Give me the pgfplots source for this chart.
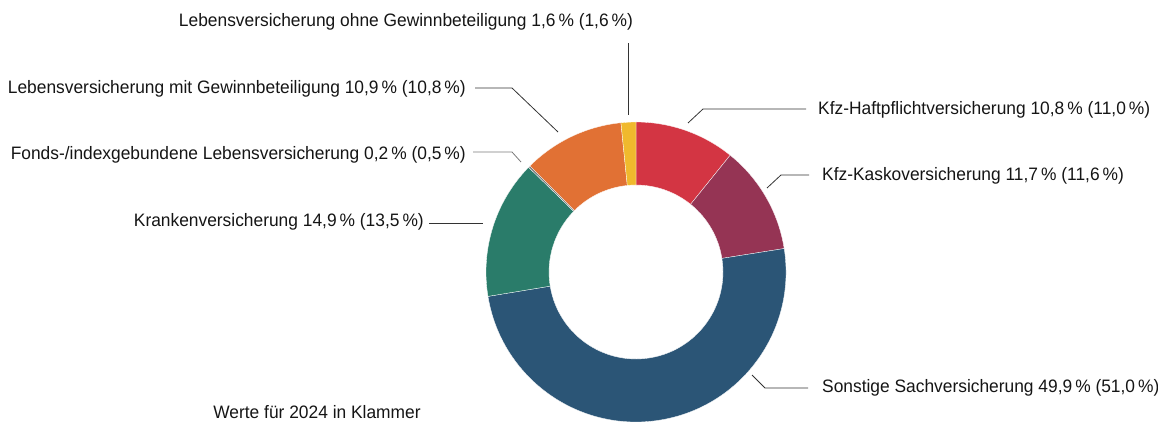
\documentclass[border=0pt]{standalone}
\usepackage{pgfplots}
\pgfplotsset{compat=1.18}
\usepackage{fontspec}
\setmainfont[FakeStretch=0.965]{Liberation Sans}
\newcommand\lf{\fontsize{18bp}{20bp}\selectfont}
\definecolor{cRed}{HTML}{D33543}
\definecolor{cMag}{HTML}{953454}
\definecolor{cBlue}{HTML}{2B5576}
\definecolor{cGreen}{HTML}{2A7C6A}
\definecolor{cGrey}{HTML}{7A7A7A}
\definecolor{cOrange}{HTML}{E17134}
\definecolor{cYellow}{HTML}{F0B92D}
\definecolor{cText}{HTML}{151515}
\definecolor{cLine}{HTML}{333333}
\tikzset{lbl/.style={font=\lf, text=cText, inner sep=0pt}}
\begin{document}
\begin{tikzpicture}[font=\lf]
\begin{axis}[
  width=1158bp, height=421bp, scale only axis,
  xmin=0, xmax=1158, ymin=0, ymax=421,
  hide axis, clip=false,
]
\coordinate (c) at (axis cs:636,149);
% leader lines (pixel y -> 421-y)
\draw[cLine, line width=0.8bp] (axis cs:628,306) -- (axis cs:628,378);
\draw[cLine, line width=0.8bp] (axis cs:688,298) -- (axis cs:703,312) -- (axis cs:806,312);
\draw[cLine, line width=0.8bp] (axis cs:767,233) -- (axis cs:781,246) -- (axis cs:809,246);
\draw[cLine, line width=0.8bp] (axis cs:752,46) -- (axis cs:765,33) -- (axis cs:808,33);
\draw[cLine, line width=0.8bp] (axis cs:429,198) -- (axis cs:483,198);
\draw[cGrey, line width=0.8bp] (axis cs:473,269) -- (axis cs:512,269) -- (axis cs:521,259);
\draw[cLine, line width=0.8bp] (axis cs:475,333) -- (axis cs:512,333) -- (axis cs:558,289);
% labels
\node[lbl, anchor=center] at (axis cs:406,399) {Lebensversicherung ohne Gewinnbeteiligung 1,6\,\% (1,6\,\%)};
\node[lbl, anchor=east] at (axis cs:466,332) {Lebensversicherung mit Gewinnbeteiligung 10,9\,\% (10,8\,\%)};
\node[lbl, anchor=east] at (axis cs:466,266) {Fonds-/indexgebundene Lebensversicherung 0,2\,\% (0,5\,\%)};
\node[lbl, anchor=east] at (axis cs:424,199) {Krankenversicherung 14,9\,\% (13,5\,\%)};
\node[lbl, anchor=west] at (axis cs:818,311) {Kfz-Haftpflichtversicherung 10,8\,\% (11,0\,\%)};
\node[lbl, anchor=west] at (axis cs:822,245) {Kfz-Kaskoversicherung 11,7\,\% (11,6\,\%)};
\node[lbl, anchor=west] at (axis cs:822,33) {Sonstige Sachversicherung 49,9\,\% (51,0\,\%)};
\node[lbl, anchor=center] at (axis cs:317,9) {Werte für 2024 in Klammer};
\end{axis}
% donut slices from the data, clockwise from the top
\def\curA{90}
\foreach \v/\col in {10.8/cRed, 11.7/cMag, 49.9/cBlue, 14.9/cGreen, 0.2/cGrey, 10.9/cOrange, 1.6/cYellow}{
  \pgfmathsetmacro\b{\curA-3.6*\v}
  \fill[\col, draw=white, line width=0.3bp]
    ([shift={(\curA:150bp)}]c) arc[start angle=\curA, end angle=\b, radius=150bp]
    -- ([shift={(\b:87bp)}]c) arc[start angle=\b, end angle=\curA, radius=87bp] -- cycle;
  \global\let\curA\b
}
\pgfresetboundingbox
\path[use as bounding box] (current axis.south west) rectangle (current axis.north east);
\end{tikzpicture}
\end{document}
